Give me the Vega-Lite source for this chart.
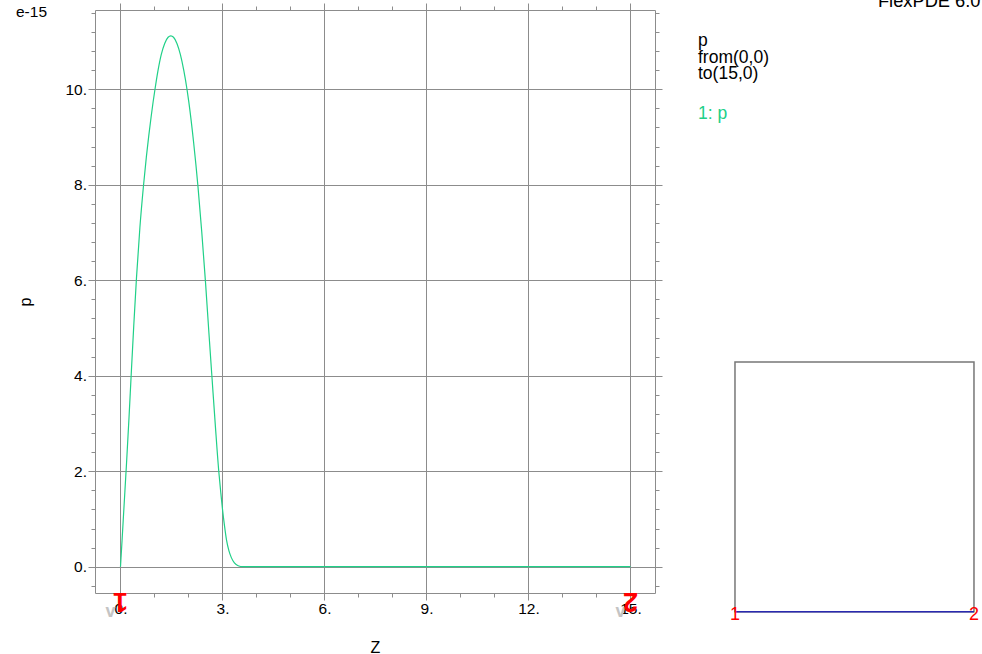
{
  "$schema": "https://vega.github.io/schema/vega-lite/v6.json",
  "width": 560,
  "height": 583,
  "autosize": {"type": "none"},
  "padding": {"left": 95, "top": 10, "right": 327, "bottom": 61},
  "config": {
    "view": {"stroke": null},
    "font": "Liberation Sans",
    "axis": {
      "domainColor": "#8c8c8c",
      "domainWidth": 1,
      "tickColor": "#8c8c8c",
      "tickWidth": 1,
      "gridColor": "#8c8c8c",
      "gridWidth": 1,
      "labelColor": "#000000",
      "labelFontSize": 15.5,
      "labelFlush": false,
      "labelOverlap": false,
      "labelBound": false,
      "titleColor": "#000000",
      "titleFontSize": 16,
      "titleFontWeight": "normal"
    }
  },
  "resolve": {
    "scale": {"x": "independent", "y": "independent"},
    "axis": {"x": "independent", "y": "independent"}
  },
  "layer": [
    {
      "data": {"values": [
        {"z": 0, "p": 0}, {"z": 0.05, "p": 0.6}, {"z": 0.1, "p": 1.22}, {"z": 0.176, "p": 2.15},
        {"z": 0.25, "p": 3.12}, {"z": 0.313, "p": 4.0}, {"z": 0.39, "p": 5.05}, {"z": 0.47, "p": 6.05},
        {"z": 0.57, "p": 7.1}, {"z": 0.676, "p": 7.98}, {"z": 0.76, "p": 8.58}, {"z": 0.83, "p": 9.02},
        {"z": 0.9, "p": 9.42}, {"z": 0.96, "p": 9.74}, {"z": 1.01, "p": 9.98}, {"z": 1.1, "p": 10.38},
        {"z": 1.2, "p": 10.73}, {"z": 1.3, "p": 10.96}, {"z": 1.4, "p": 11.09}, {"z": 1.48, "p": 11.12},
        {"z": 1.56, "p": 11.09}, {"z": 1.66, "p": 10.96}, {"z": 1.76, "p": 10.73}, {"z": 1.86, "p": 10.4},
        {"z": 1.96, "p": 9.98}, {"z": 2.01, "p": 9.73}, {"z": 2.15, "p": 8.89}, {"z": 2.28, "p": 7.95},
        {"z": 2.39, "p": 7.01}, {"z": 2.5, "p": 5.96}, {"z": 2.6, "p": 4.9}, {"z": 2.695, "p": 3.92},
        {"z": 2.79, "p": 2.95}, {"z": 2.89, "p": 2.0}, {"z": 2.95, "p": 1.55}, {"z": 3.0, "p": 1.2},
        {"z": 3.06, "p": 0.85}, {"z": 3.12, "p": 0.55}, {"z": 3.19, "p": 0.33}, {"z": 3.26, "p": 0.19},
        {"z": 3.35, "p": 0.08}, {"z": 3.46, "p": 0.02}, {"z": 3.6, "p": 0},
        {"z": 5, "p": 0}, {"z": 10, "p": 0}, {"z": 15, "p": 0}
      ]},
      "mark": {"type": "line", "color": "#20d088", "strokeWidth": 1.2, "interpolate": "monotone"},
      "encoding": {
        "x": {
          "field": "z", "type": "quantitative",
          "scale": {"domain": [-0.75, 15.7206], "nice": false, "zero": false},
          "axis": {
            "orient": "bottom", "title": "Z",
            "values": [0,1,2,3,4,5,6,7,8,9,10,11,12,13,14,15],
            "grid": true,
            "gridOpacity": {"condition": {"test": "datum.value % 3 === 0", "value": 1}, "value": 0},
            "tickSize": {"condition": {"test": "datum.value % 3 === 0", "value": 7}, "value": 4},
            "labelExpr": "datum.value % 3 === 0 ? datum.value + '.' : ''",
            "labelPadding": 1.5,
            "titlePadding": 22
          }
        },
        "y": {
          "field": "p", "type": "quantitative",
          "scale": {"domain": [-0.5509, 11.661], "nice": false, "zero": false},
          "axis": {
            "orient": "left", "title": "p",
            "values": [-0.4,0,0.4,0.8,1.2,1.6,2,2.4,2.8,3.2,3.6,4,4.4,4.8,5.2,5.6,6,6.4,6.8,7.2,7.6,8,8.4,8.8,9.2,9.6,10,10.4,10.8,11.2,11.6],
            "grid": true,
            "gridOpacity": {"condition": {"test": "datum.value % 2 === 0", "value": 1}, "value": 0},
            "tickSize": {"condition": {"test": "datum.value % 2 === 0", "value": 7}, "value": 4},
            "labelExpr": "datum.value % 2 === 0 ? datum.value + '.' : ''",
            "labelPadding": 1.5,
            "titlePadding": 31
          }
        }
      }
    },
    {
      "data": {"values": [{"z": 0, "end": "1"}, {"z": 15, "end": "2"}]},
      "mark": {"type": "text", "text": "v", "fontSize": 18, "fontWeight": "bold", "color": "#c4c4c4", "dx": -10, "dy": 19, "baseline": "middle", "align": "center"},
      "encoding": {
        "x": {
          "field": "z", "type": "quantitative",
          "scale": {"domain": [-0.75, 15.7206], "nice": false, "zero": false},
          "axis": {
            "orient": "top", "title": null, "labels": false, "grid": false,
            "values": [0,1,2,3,4,5,6,7,8,9,10,11,12,13,14,15],
            "tickSize": {"condition": {"test": "datum.value % 3 === 0", "value": 7}, "value": 4}
          }
        },
        "y": {
          "datum": -0.5509, "type": "quantitative",
          "scale": {"domain": [-0.5509, 11.661], "nice": false, "zero": false},
          "axis": {
            "orient": "right", "title": null, "labels": false, "grid": false,
            "values": [-0.4,0,0.4,0.8,1.2,1.6,2,2.4,2.8,3.2,3.6,4,4.4,4.8,5.2,5.6,6,6.4,6.8,7.2,7.6,8,8.4,8.8,9.2,9.6,10,10.4,10.8,11.2,11.6],
            "tickSize": {"condition": {"test": "datum.value % 2 === 0", "value": 7}, "value": 4}
          }
        }
      }
    },
    {
      "data": {"values": [{"z": 0, "end": "1"}, {"z": 15, "end": "2"}]},
      "mark": {"type": "text", "fontSize": 27, "fontWeight": "bold", "color": "#ff0000", "angle": 180, "baseline": "alphabetic", "align": "center"},
      "encoding": {
        "x": {"field": "z", "type": "quantitative", "scale": {"domain": [-0.75, 15.7206], "nice": false, "zero": false}, "axis": null},
        "y": {"datum": -0.5509, "type": "quantitative", "scale": {"domain": [-0.5509, 11.661], "nice": false, "zero": false}, "axis": null},
        "text": {"field": "end"}
      }
    },
    {
      "data": {"values": [{"note": "e-15"}]},
      "mark": {"type": "text", "fontSize": 15.5, "color": "#000000", "align": "left", "baseline": "alphabetic"},
      "encoding": {
        "x": {"datum": -3.074, "type": "quantitative", "scale": {"domain": [-0.75, 15.7206], "nice": false, "zero": false}, "axis": null},
        "y": {"datum": 11.52, "type": "quantitative", "scale": {"domain": [-0.5509, 11.661], "nice": false, "zero": false}, "axis": null},
        "text": {"field": "note"}
      }
    },
    {
      "data": {"values": [{"x0": 0, "x1": 15, "y0": 0, "y1": 15.67}]},
      "mark": {"type": "rect", "filled": false, "stroke": "#777777", "strokeWidth": 1.5},
      "encoding": {
        "x": {"field": "x0", "type": "quantitative", "scale": {"domain": [-40.167, -5.02], "nice": false, "zero": false}, "axis": null},
        "x2": {"field": "x1"},
        "y": {"field": "y0", "type": "quantitative", "scale": {"domain": [1.1737, 37.765], "nice": false, "zero": false}, "axis": null},
        "y2": {"field": "y1"}
      }
    },
    {
      "data": {"values": [{"x0": 0, "x1": 15, "y": 0}]},
      "mark": {"type": "rule", "color": "#2a2ab0", "strokeWidth": 1.5},
      "encoding": {
        "x": {"field": "x0", "type": "quantitative", "scale": {"domain": [-40.167, -5.02], "nice": false, "zero": false}, "axis": null},
        "x2": {"field": "x1"},
        "y": {"field": "y", "type": "quantitative", "scale": {"domain": [1.1737, 37.765], "nice": false, "zero": false}, "axis": null}
      }
    },
    {
      "data": {"values": [{"x": 0, "y": 0, "label": "1"}, {"x": 15, "y": 0, "label": "2"}]},
      "mark": {"type": "text", "fontSize": 18, "color": "#ff0000", "align": "center", "baseline": "middle", "dy": 3},
      "encoding": {
        "x": {"field": "x", "type": "quantitative", "scale": {"domain": [-40.167, -5.02], "nice": false, "zero": false}, "axis": null},
        "y": {"field": "y", "type": "quantitative", "scale": {"domain": [1.1737, 37.765], "nice": false, "zero": false}, "axis": null},
        "text": {"field": "label"}
      }
    },
    {
      "data": {"values": [{"t": "p\nfrom(0,0)\nto(15,0)"}]},
      "mark": {"type": "text", "fontSize": 17.5, "color": "#000000", "align": "left", "baseline": "alphabetic", "lineBreak": "\n", "lineHeight": 16.5},
      "encoding": {
        "x": {"datum": -2.322, "type": "quantitative", "scale": {"domain": [-40.167, -5.02], "nice": false, "zero": false}, "axis": null},
        "y": {"datum": 35.5, "type": "quantitative", "scale": {"domain": [1.1737, 37.765], "nice": false, "zero": false}, "axis": null},
        "text": {"field": "t"}
      }
    },
    {
      "data": {"values": [{"t": "1: p"}]},
      "mark": {"type": "text", "fontSize": 17.5, "color": "#20d088", "align": "left", "baseline": "alphabetic"},
      "encoding": {
        "x": {"datum": -2.322, "type": "quantitative", "scale": {"domain": [-40.167, -5.02], "nice": false, "zero": false}, "axis": null},
        "y": {"datum": 30.93, "type": "quantitative", "scale": {"domain": [1.1737, 37.765], "nice": false, "zero": false}, "axis": null},
        "text": {"field": "t"}
      }
    },
    {
      "data": {"values": [{"t": "FlexPDE 6.0"}]},
      "mark": {"type": "text", "fontSize": 18.3, "color": "#000000", "align": "left", "baseline": "alphabetic"},
      "encoding": {
        "x": {"datum": 8.97, "type": "quantitative", "scale": {"domain": [-40.167, -5.02], "nice": false, "zero": false}, "axis": null},
        "y": {"datum": 37.94, "type": "quantitative", "scale": {"domain": [1.1737, 37.765], "nice": false, "zero": false}, "axis": null},
        "text": {"field": "t"}
      }
    }
  ]
}
